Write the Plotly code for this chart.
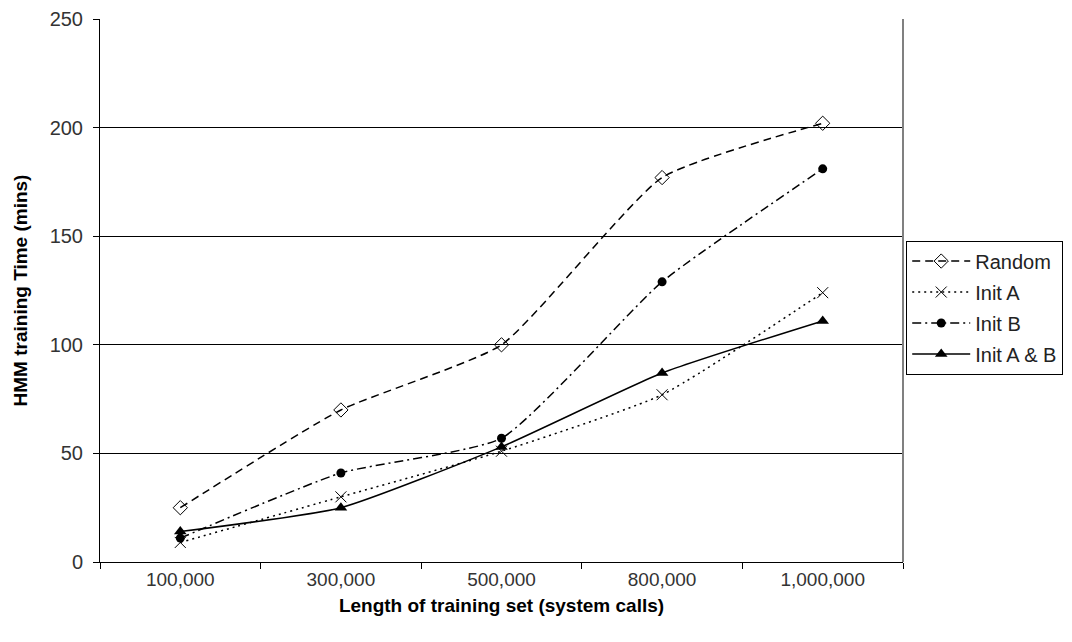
import plotly.graph_objects as go

# Training-set sizes (system calls) and HMM training times (minutes)
categories = ["100,000", "300,000", "500,000", "800,000", "1,000,000"]
random_init = [25, 70, 100, 177, 202]
init_a = [9, 30, 51, 77, 124]
init_b = [11, 41, 57, 129, 181]
init_ab = [14, 25, 53, 87, 111]

y_ticks = [0, 50, 100, 150, 200, 250]

FONT = "Liberation Sans, Arial, sans-serif"

series = [
    ("Random", random_init, dict(symbol="diamond-open", size=11, color="black",
                                 line=dict(width=1, color="black")), "8px,5px"),
    ("Init A", init_a, dict(symbol="x-thin-open", size=11, color="black",
                            line=dict(width=1, color="black")), "2px,4px"),
    ("Init B", init_b, dict(symbol="circle", size=9, color="black"), "9px,4px,2px,4px"),
    ("Init A & B", init_ab, dict(symbol="triangle-up", size=11, color="black"), "solid"),
]

fig = go.Figure()
for i, (name, values, marker, dash) in enumerate(series):
    fig.add_trace(go.Scatter(
        x=categories, y=values, name=name, mode="lines+markers",
        line=dict(color="black", width=1.5, dash=dash, shape="spline", smoothing=0.5),
        marker=marker, legendgroup=f"g{i}",
    ))

fig.update_layout(
    width=1072, height=642,
    margin=dict(l=100, r=169, t=19, b=80, autoexpand=False),
    paper_bgcolor="white", plot_bgcolor="white",
    font=dict(family=FONT, size=19, color="#222"),
    showlegend=True,
    legend=dict(
        x=1.004, y=0.592, xanchor="left", yanchor="top",
        bordercolor="black", borderwidth=1, bgcolor="white",
        font=dict(family=FONT, size=20, color="#222"),
        tracegroupgap=2, traceorder="grouped", itemwidth=58,
    ),
    xaxis=dict(
        type="category", range=[-0.5, 4.5], tickson="boundaries",
        ticks="outside", ticklen=6, tickcolor="black",
        showline=True, linecolor="black", linewidth=1,
        showgrid=False, zeroline=False,
        tickfont=dict(family=FONT, size=19, color="#333"),
        title=dict(text="<b>Length of training set (system calls)</b>",
                   font=dict(family=FONT, size=19, color="black"), standoff=9),
    ),
    yaxis=dict(
        range=[0, 250], tickvals=y_ticks, ticks="outside", ticklen=6,
        tickcolor="black", showline=True, linecolor="black", linewidth=1,
        showgrid=True, gridcolor="black", gridwidth=1, zeroline=False,
        tickfont=dict(family=FONT, size=20, color="#333"),
        ticklabelstandoff=6,
        title=dict(text="<b>HMM training Time (mins)</b>",
                   font=dict(family=FONT, size=19, color="black"), standoff=16),
    ),
)

# Right-hand frame of the plot area
fig.add_shape(type="line", xref="paper", yref="paper", x0=1, x1=1, y0=0, y1=1,
              line=dict(color="#808080", width=2))

fig.write_html("out.html")
